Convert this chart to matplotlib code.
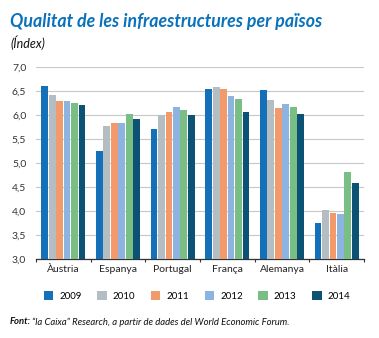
import numpy as np
import matplotlib
matplotlib.use("Agg")
import matplotlib.pyplot as plt
from matplotlib.patches import Patch

countries = ["Àustria", "Espanya", "Portugal", "França", "Alemanya", "Itàlia"]
years = ["2009", "2010", "2011", "2012", "2013", "2014"]

v2009 = [6.60, 5.24, 5.71, 6.54, 6.53, 3.76]
v2010 = [6.42, 5.78, 5.99, 6.58, 6.32, 4.03]
v2011 = [6.29, 5.84, 6.06, 6.54, 6.15, 3.96]
v2012 = [6.30, 5.83, 6.17, 6.40, 6.23, 3.93]
v2013 = [6.24, 6.03, 6.10, 6.33, 6.16, 4.81]
v2014 = [6.20, 5.92, 6.00, 6.06, 6.02, 4.58]
series = [v2009, v2010, v2011, v2012, v2013, v2014]

colors = ["#1470b8", "#b4bec2", "#f39a6c", "#8db4e0", "#79bf85", "#0b5274"]

plt.rcParams["font.family"] = ["Lato", "DejaVu Sans"]

fig = plt.figure(figsize=(3.79, 3.38), dpi=100)
ax = fig.add_axes([36/379, 1 - 259/338, (364 - 36)/379, (259 - 67)/338])

x = np.arange(len(countries))
w = 0.136
for k, vals in enumerate(series):
    ax.bar(x + (k - 2.5) * w, np.array(vals) - 3.0, w * 0.92, bottom=3.0,
           color=colors[k], zorder=3, linewidth=0)

ax.set_ylim(3.0, 7.0)
ax.set_xlim(-0.5, len(countries) - 0.5)
ax.set_yticks(np.arange(3.0, 7.01, 0.5))
ax.set_yticklabels([f"{t:.1f}".replace(".", ",") for t in np.arange(3.0, 7.01, 0.5)])
ax.yaxis.grid(True, color="#c8c8c8", linewidth=0.8, zorder=0)
ax.tick_params(axis="y", length=0, labelsize=7.5, colors="#333333", pad=7)
ax.set_xticks(x)
ax.set_xticklabels(countries)
ax.tick_params(axis="x", length=0, labelsize=7.5, colors="#222222", pad=4)
ax.set_xticks(np.arange(-0.5, len(countries), 1.0), minor=True)
ax.tick_params(axis="x", which="minor", length=2.5, width=0.8, color="#333333")
for s in ["left", "right", "top"]:
    ax.spines[s].set_visible(False)
ax.spines["bottom"].set_color("#333333")
ax.spines["bottom"].set_linewidth(0.9)

fig.text(10/379, 1 - 22/338, "Qualitat de les infraestructures per països",
         color="#0a72bb", fontsize=12.8, fontweight="bold", fontstyle="italic", va="center")
fig.text(10/379, 1 - 43/338, "(Índex)", color="#111111", fontsize=9,
         fontstyle="italic", va="center")

handles = [Patch(facecolor=c, edgecolor="none") for c in colors]
fig.legend(handles, years, loc="center", bbox_to_anchor=(197/379, 1 - 296/338),
           ncol=6, frameon=False, fontsize=7, handlelength=1.0, handleheight=1.0,
           columnspacing=1.6, handletextpad=0.6)

src1 = fig.text(10/379, 1 - 322/338, "Font:", fontsize=6.8, fontweight="bold",
                fontstyle="italic", va="center", color="#111111")
fig.canvas.draw()
bb = src1.get_window_extent()
fig.text((bb.x1 + 1) / 379, 1 - 322/338,
         "“la Caixa” Research, a partir de dades del World Economic Forum.",
         fontsize=6.8, fontstyle="italic", va="center", color="#111111")

fig.savefig("out.png", dpi=100)
